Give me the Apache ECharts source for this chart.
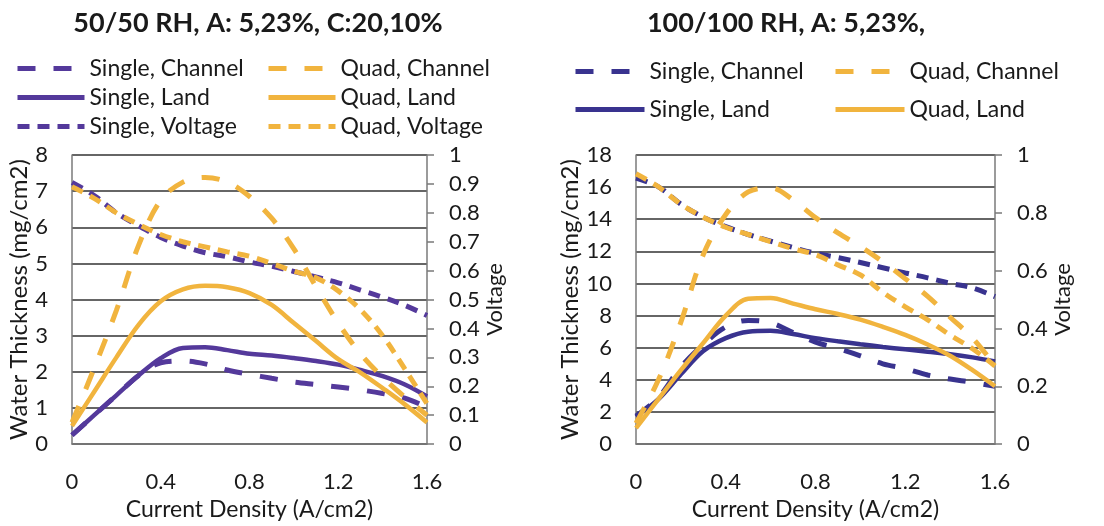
<!DOCTYPE html>
<html>
<head>
<meta charset="utf-8">
<script src="https://cdn.jsdelivr.net/npm/echarts@6/dist/echarts.min.js"></script>
<style>
  html, body { margin: 0; padding: 0; background: #fff; }
  #chart { width: 1104px; height: 526px; }
</style>
</head>
<body>
<div id="chart"></div>
<script>
// ---- data ----
const xValues = [0, 0.1, 0.2, 0.3, 0.4, 0.5, 0.6, 0.7, 0.8, 0.9, 1.0, 1.1, 1.2, 1.3, 1.4, 1.5, 1.6];
const xTicks = [0, 0.4, 0.8, 1.2, 1.6];

// Left chart: 50/50 RH
const leftTitle = '50/50 RH, A: 5,23%, C:20,10%';
const leftSingleChannel = [0.25, 0.8, 1.35, 1.9, 2.25, 2.3, 2.22, 2.05, 1.93, 1.82, 1.72, 1.65, 1.58, 1.5, 1.4, 1.27, 1.02];
const leftSingleLand    = [0.25, 0.8, 1.35, 1.9, 2.38, 2.66, 2.68, 2.6, 2.5, 2.45, 2.38, 2.3, 2.2, 2.05, 1.88, 1.65, 1.32];
const leftSingleVoltage = [0.905, 0.86, 0.8, 0.755, 0.715, 0.685, 0.662, 0.648, 0.63, 0.615, 0.597, 0.578, 0.558, 0.533, 0.508, 0.48, 0.445];
const leftQuadChannel   = [0.6, 2.1, 3.7, 5.5, 6.75, 7.25, 7.38, 7.25, 6.85, 6.25, 5.4, 4.35, 3.35, 2.5, 1.85, 1.3, 0.8];
const leftQuadLand      = [0.5, 1.45, 2.4, 3.3, 3.95, 4.28, 4.38, 4.34, 4.18, 3.85, 3.35, 2.85, 2.35, 1.98, 1.55, 1.1, 0.6];
const leftQuadVoltage   = [0.89, 0.85, 0.8, 0.76, 0.725, 0.7, 0.682, 0.665, 0.65, 0.625, 0.598, 0.575, 0.53, 0.465, 0.375, 0.26, 0.14];

// Right chart: 100/100 RH
const rightTitle = '100/100 RH, A: 5,23%,';
const rightSingleChannel = [1.75, 2.9, 4.8, 6.2, 7.3, 7.7, 7.55, 6.95, 6.35, 5.95, 5.5, 5.0, 4.7, 4.3, 4.05, 3.85, 3.6];
const rightSingleLand    = [1.7, 2.8, 4.35, 5.8, 6.6, 7.0, 7.05, 6.85, 6.6, 6.4, 6.22, 6.05, 5.9, 5.75, 5.6, 5.4, 5.15];
const rightSingleVoltage = [0.92, 0.89, 0.83, 0.785, 0.752, 0.725, 0.702, 0.68, 0.66, 0.645, 0.628, 0.61, 0.592, 0.575, 0.556, 0.54, 0.51];
const rightQuadChannel   = [1.3, 4.0, 7.6, 11.8, 14.3, 15.7, 15.95, 15.2, 14.1, 13.15, 12.3, 11.35, 10.3, 9.2, 7.9, 6.6, 4.9];
const rightQuadLand      = [1.0, 2.8, 4.6, 6.3, 8.0, 9.05, 9.1, 8.75, 8.4, 8.1, 7.75, 7.3, 6.8, 6.2, 5.5, 4.6, 3.6];
const rightQuadVoltage   = [0.935, 0.89, 0.83, 0.785, 0.75, 0.725, 0.7, 0.676, 0.655, 0.62, 0.585, 0.525, 0.475, 0.43, 0.377, 0.33, 0.27];

const leftYMax = 8, leftYInterval = 1;
const rightYMax = 18, rightYInterval = 2;
const leftVInterval = 0.1, rightVInterval = 0.2;

// ---- styling ----
const FONT = 'Lato';
const purpleL = '#54399b';
const purpleR = '#39338f';
const orange = '#f1b43e';
const channelDash = [18, 18];
const voltageDash = [12, 8];
const textColor = '#1a1a1a';

function pts(ys) { return xValues.map((x, i) => [x, ys[i]]); }

function mkSeries(name, data, color, type, xi, yi) {
  return {
    name: name, type: 'line', xAxisIndex: xi, yAxisIndex: yi,
    data: pts(data), smooth: 0.35, symbol: 'none',
    lineStyle: { color: color, width: type === 'solid' ? 4.5 : 5,
      type: type === 'solid' ? 'solid' : (type === 'channel' ? channelDash : voltageDash),
      cap: 'butt' },
    itemStyle: { color: color },
    emphasis: { disabled: true }
  };
}

const series = [
  mkSeries('L|Single, Channel', leftSingleChannel, purpleL, 'channel', 0, 0),
  mkSeries('L|Single, Land', leftSingleLand, purpleL, 'solid', 0, 0),
  mkSeries('L|Single, Voltage', leftSingleVoltage, purpleL, 'voltage', 0, 1),
  mkSeries('L|Quad, Channel', leftQuadChannel, orange, 'channel', 0, 0),
  mkSeries('L|Quad, Land', leftQuadLand, orange, 'solid', 0, 0),
  mkSeries('L|Quad, Voltage', leftQuadVoltage, orange, 'voltage', 0, 1),
  mkSeries('R|Single, Channel', rightSingleChannel, purpleR, 'channel', 1, 2),
  mkSeries('R|Single, Land', rightSingleLand, purpleR, 'solid', 1, 2),
  mkSeries('R|Single, Voltage', rightSingleVoltage, purpleR, 'voltage', 1, 3),
  mkSeries('R|Quad, Channel', rightQuadChannel, orange, 'channel', 1, 2),
  mkSeries('R|Quad, Land', rightQuadLand, orange, 'solid', 1, 2),
  mkSeries('R|Quad, Voltage', rightQuadVoltage, orange, 'voltage', 1, 3)
];

function xAxis(gi) {
  return {
    type: 'value', gridIndex: gi, min: 0, max: 1.6, interval: 0.4,
    name: 'Current Density (A/cm2)', nameLocation: 'middle', nameGap: 41,
    nameTextStyle: { fontFamily: FONT, fontSize: 23, color: textColor },
    axisLine: { show: true, lineStyle: { color: '#7a7a7a', width: 1.5 } },
    axisTick: { show: false },
    splitLine: { show: false },
    axisLabel: { margin: 27, fontFamily: FONT, fontSize: 22, color: textColor,
      formatter: v => String(Math.round(v * 10) / 10) }
  };
}
function yAxisLeft(gi, max, interval, gap) {
  return {
    type: 'value', gridIndex: gi, min: 0, max: max, interval: interval, position: 'left',
    name: 'Water Thickness (mg/cm2)', nameLocation: 'middle', nameGap: gap, nameRotate: 90,
    nameTextStyle: { fontFamily: FONT, fontSize: 24, color: textColor },
    axisLine: { show: true, lineStyle: { color: '#7a7a7a', width: 1.5 } },
    axisTick: { show: false },
    splitLine: { show: true, lineStyle: { color: '#333333', width: 1.5 } },
    axisLabel: { margin: 24, fontFamily: FONT, fontSize: 22, color: textColor }
  };
}
function yAxisRight(gi, interval, gap) {
  return {
    type: 'value', gridIndex: gi, min: 0, max: 1, interval: interval, position: 'right',
    name: 'Voltage', nameLocation: 'middle', nameGap: gap, nameRotate: 90,
    nameTextStyle: { fontFamily: FONT, fontSize: 22, color: textColor },
    axisLine: { show: true, onZero: false, lineStyle: { color: '#7a7a7a', width: 1.5 } },
    axisTick: { show: true, inside: false, length: 7, lineStyle: { color: '#7a7a7a', width: 1.5 } },
    splitLine: { show: false },
    axisLabel: { margin: 22, fontFamily: FONT, fontSize: 22, color: textColor,
      formatter: v => String(Math.round(v * 10) / 10) }
  };
}

function legend(names, left, top, gap, width) {
  return {
    data: names, orient: 'vertical', left: left, top: top, padding: 0,
    itemWidth: width, itemHeight: 14, itemGap: gap, selectedMode: false,
    itemStyle: { opacity: 0 },
    lineStyle: { width: 5, cap: 'butt' },
    formatter: n => n.split('|')[1],
    textStyle: { fontFamily: FONT, fontSize: 23, color: textColor, lineHeight: 22, padding: [0, 0, 0, 0] }
  };
}

const option = {
  animation: false,
  backgroundColor: '#ffffff',
  title: [
    { text: leftTitle, left: 253, top: 5, textAlign: 'center',
      textStyle: { fontFamily: FONT, fontSize: 27, fontWeight: 'bold', color: textColor } },
    { text: rightTitle, left: 781, top: 5, textAlign: 'center',
      textStyle: { fontFamily: FONT, fontSize: 27, fontWeight: 'bold', color: textColor } }
  ],
  legend: [
    legend(['L|Single, Channel', 'L|Single, Land', 'L|Single, Voltage'], 15, 57, 6, 67),
    legend(['L|Quad, Channel', 'L|Quad, Land', 'L|Quad, Voltage'], 266, 57, 6, 67),
    legend(['R|Single, Channel', 'R|Single, Land'], 573, 60, 15, 69),
    legend(['R|Quad, Channel', 'R|Quad, Land'], 833, 60, 15, 69)
  ],
  grid: [
    { left: 72, top: 155, width: 355, height: 297 },
    { left: 636, top: 155, width: 359, height: 297 }
  ],
  xAxis: [xAxis(0), xAxis(1)],
  yAxis: [
    yAxisLeft(0, leftYMax, leftYInterval, 34),
    yAxisRight(0, leftVInterval, 44),
    yAxisLeft(1, rightYMax, rightYInterval, 45),
    yAxisRight(1, rightVInterval, 46)
  ],
  series: series
};

const chart = echarts.init(document.getElementById('chart'), null, { renderer: 'canvas' });
chart.setOption(option);
</script>
</body>
</html>
